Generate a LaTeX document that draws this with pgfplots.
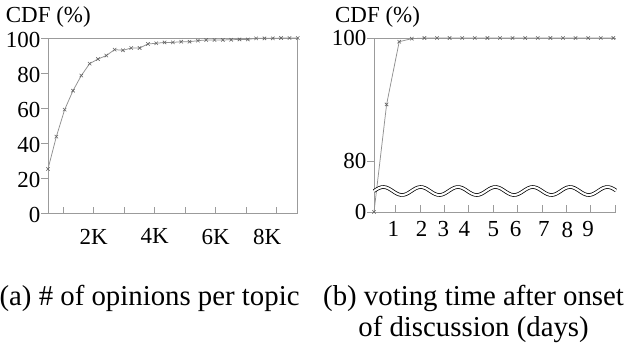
\documentclass[border=0pt]{standalone}
\usepackage{fontspec}
\setmainfont{Liberation Serif}
\usepackage{pgfplots}
\pgfplotsset{compat=1.18}
\definecolor{axgray}{RGB}{155,155,155}
\definecolor{lngray}{RGB}{145,145,145}
\definecolor{mkgray}{RGB}{100,100,100}
\pgfplotsset{
  common/.style={
    scale only axis,
    anchor=south west,
    clip=false,
    axis line style={-, axgray, line width=0.6pt},
    every tick/.style={axgray, line width=0.5pt},
    major tick length=4.4pt,
    xtick align=inside,
    ytick align=outside,
    tick pos=left,
    tick label style={font=\fontsize{15.3}{18}\selectfont, inner sep=0.5pt, text=black},
    /pgf/number format/assume math mode=true,
    scaled x ticks=false,
    scaled y ticks=false,
    xticklabels={},
    extra x tick style={major tick length=0pt, grid=none},
  },
  dataline/.style={lngray, line width=0.5pt, mark=x, mark size=1.6pt,
    mark options={mkgray, line width=0.4pt}},
}
\begin{document}
\begin{tikzpicture}
\useasboundingbox (0,0) rectangle (419.33pt,228.67pt);
% (a) left panel
\begin{axis}[common, name=A, at={(32pt,86.33pt)}, width=166.5pt, height=117pt,
  xmin=509, xmax=8684, ymin=0, ymax=100,
  xtick={1000,2000,3000,4000,5000,6000,7000,8000},
  extra x ticks={2000,4000,6000,7680},
  extra x tick labels={2K,4K,6K,8K},
  xticklabel style={yshift=-9.5pt},
  ytick={0,20,40,60,80,100},
  yticklabel style={yshift=-1pt},
]
\addplot[dataline] table {
x y
509 25.4
782 43.8
1054 59.2
1327 70.0
1599 78.6
1872 85.4
2144 88.0
2417 90.0
2689 93.4
2962 93.0
3234 94.3
3507 94.3
3779 96.6
4052 97.0
4324 97.5
4597 97.5
4869 97.9
5142 97.9
5414 98.5
5687 98.9
5959 98.9
6232 98.9
6504 99.0
6777 99.2
7049 99.2
7322 99.8
7594 99.8
7867 99.8
8139 100
8412 100
8684 100
};
\end{axis}
% (b) right panel
\begin{axis}[common, name=B, at={(249.33pt,87.33pt)}, width=161.3pt, height=116pt,
  axis x line*=bottom, axis y line*=left,
  x axis line style={-}, y axis line style={-},
  xmin=0, xmax=9.603, ymin=0, ymax=100,
  y coord trafo/.code={\pgfmathparse{ifthenelse(#1<80,71.71+0.10366*#1,#1)}},
  y coord inv trafo/.code={\pgfmathparse{ifthenelse(#1<80,(#1-71.71)/0.10366,#1)}},
  ytick={0,80,100}, yticklabels={0,80,100},
  xtick={0.861,1.829,2.797,3.765,4.733,5.701,6.669,7.637,8.605,9.573},
  extra x ticks={0.766,1.893,2.750,3.583,4.738,5.623,6.746,7.675,8.496},
  extra x tick labels={1,2,3,4,5,6,7,8,9},
  xticklabel style={yshift=-5.8pt},
]
\draw[axgray, line width=0.6pt] (rel axis cs:0,1) -- (rel axis cs:1,1);
\addplot[dataline] table {
x y
0 0
0.5 89.2
1 99.4
1.5 99.9
2 100
2.5 100
3 100
3.5 100
4 100
4.5 100
5 100
5.5 100
6 100
6.5 100
7 100
7.5 100
8 100
8.5 100
9 100
9.5 100
};
\end{axis}
% axis-break symbol
\draw[x=1pt, y=1pt, shift={(B.south west)}, black, line width=0.5pt, double=white, double distance=1.4pt]
  plot[smooth, domain=0:161.3, samples=100] (\x, {14+2.67*sin(14.458*\x)});
% labels
\node[anchor=base, font=\fontsize{15.3}{18}\selectfont, inner sep=0pt] at (32.2pt,213.5pt) {CDF (\%)};
\node[anchor=base, font=\fontsize{15.3}{18}\selectfont, inner sep=0pt] at (251.7pt,213.5pt) {CDF (\%)};
\node[anchor=base, font=\fontsize{19.2}{23}\selectfont, inner sep=0pt] at (99.7pt,24.7pt) {(a) \# of opinions per topic};
\node[anchor=base, font=\fontsize{19.2}{23}\selectfont, inner sep=0pt] at (315.7pt,24.7pt) {(b) voting time after onset};
\node[anchor=base, font=\fontsize{19.2}{23}\selectfont, inner sep=0pt] at (315.7pt,4.67pt) {of discussion (days)};
\end{tikzpicture}
\end{document}
